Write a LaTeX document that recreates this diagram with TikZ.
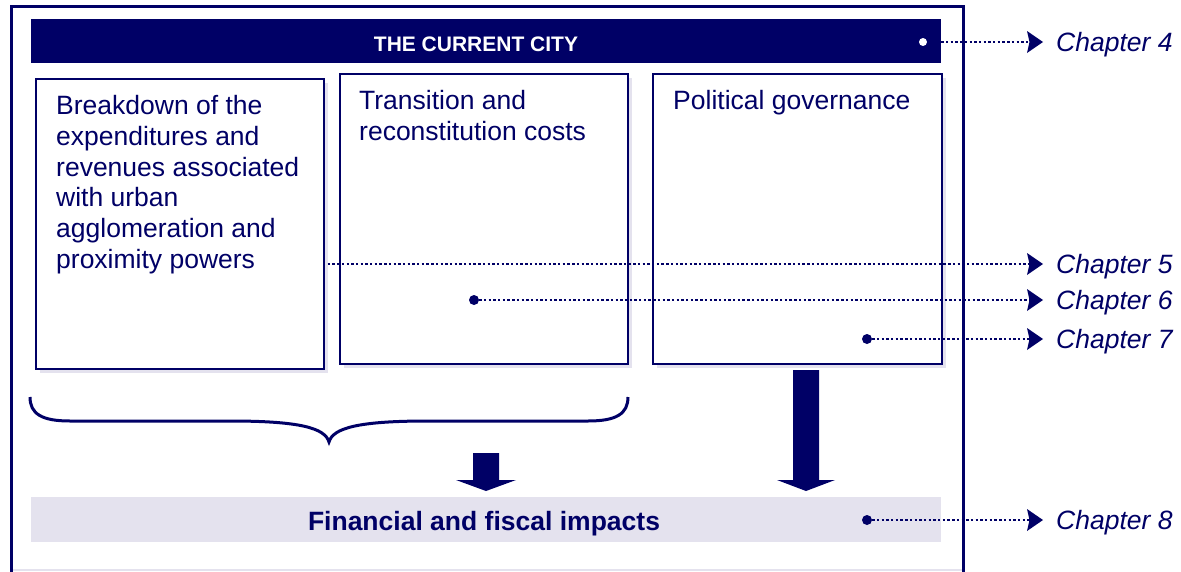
\documentclass[tikz,border=0pt]{standalone}
\usepackage{fontspec}
\setmainfont{Liberation Sans}
\usetikzlibrary{arrows.meta,calc}
\definecolor{navy}{RGB}{0,0,102}
\definecolor{lav}{RGB}{228,226,238}
\begin{document}
\begin{tikzpicture}[x=1pt,y=-1pt,
 box/.style={draw=navy,line width=2pt,fill=white,inner sep=0pt,anchor=north west,minimum height=290pt},
 shadowbox/.style={fill=lav},
 txt/.style={text=navy,font=\fontsize{26.5}{30.8}\selectfont,align=left,anchor=north west,inner sep=0pt},
 chap/.style={text=navy,font=\fontsize{26.5}{30}\selectfont\itshape,anchor=west,inner sep=0pt},
 dotline/.style={navy,line width=2.4pt,dash pattern=on 2.4pt off 2.3pt,-{Stealth[length=16pt,width=22pt,inset=2.5pt,line width=0pt,fill=navy]}},
 blob/.style={circle,fill=navy,inner sep=0pt,minimum size=10pt},
 blockarrow/.style={fill=navy}
]
\useasboundingbox (0,0) rectangle (1181,571);
\fill[white] (0,0) rectangle (1181,571);
% outer frame
\draw[lav,line width=1.5pt] (12,570) -- (962,570);
\node[draw=navy,line width=2.5pt,inner sep=0pt,anchor=north west,minimum width=952pt,minimum height=580pt] (frame) at (10,5) {};
% title bar
\node[fill=navy,inner sep=0pt,anchor=north west,minimum width=910pt,minimum height=44pt] (titlebar) at (31,19) {};
\node[text=white,font=\bfseries\fontsize{21}{25}\selectfont,inner sep=0pt] (title) at (476,44) {THE CURRENT CITY};
% shadows
\fill[shadowbox] (40,83) rectangle (328,373);
\fill[shadowbox] (344,78) rectangle (632,368);
\fill[shadowbox] (657,78) rectangle (946,368);
% boxes
\node[box,minimum width=288pt] (b1) at (35,78) {};
\node[box,minimum width=288pt] (b2) at (339,73) {};
\node[box,minimum width=289pt] (b3) at (652,73) {};
\node[txt] (t1) at (56,95) {Breakdown of the\\expenditures and\\revenues associated\\with urban\\agglomeration and\\proximity powers};
\node[txt] (t2) at (359,90) {Transition and\\reconstitution costs};
\node[txt] (t3) at (673,90) {Political governance};
% brace
\draw[navy,line width=3pt] (30,397) .. controls (30,414) and (42,421) .. (70,421) -- (230,421)
  .. controls (300,421) and (325,428) .. (329,442)
  .. controls (333,428) and (358,421) .. (428,421) -- (588,421)
  .. controls (616,421) and (628,414) .. (628,397);
% block arrows
\fill[blockarrow] (473,453) -- (499,453) -- (499,480) -- (516,480) -- (486,491) -- (456,480) -- (473,480) -- cycle;
\fill[blockarrow] (793,370) -- (819,370) -- (819,480) -- (835,480) -- (806,491) -- (777,480) -- (793,480) -- cycle;
% impacts bar
\node[fill=lav,inner sep=0pt,anchor=north west,minimum width=910pt,minimum height=45pt] (impact) at (31,497) {};
\node[text=navy,font=\bfseries\fontsize{26.5}{30}\selectfont,inner sep=0pt] (impacttxt) at (484,524) {Financial and fiscal impacts};
% chapter labels
\node[chap] (c4) at (1056,44.5) {Chapter 4};
\node[chap] (c5) at (1056,266.5) {Chapter 5};
\node[chap] (c6) at (1056,302.5) {Chapter 6};
\node[chap] (c7) at (1056,341.5) {Chapter 7};
\node[chap] (c8) at (1056,522.5) {Chapter 8};
\coordinate (e4) at (1043,42);
\coordinate (e5) at (1043,264);
\coordinate (e6) at (1043,300);
\coordinate (e7) at (1043,339);
\coordinate (e8) at (1043,520);
% dots
\coordinate (s5) at (323,264);
\node[circle,fill=white,inner sep=0pt,minimum size=8pt] (d4) at (923,42) {};
\node[blob] (d6) at (474,300) {};
\node[blob] (d7) at (867,339) {};
\node[blob] (d8) at (867,520) {};
% connectors
\draw[dotline] (d4) -- (e4);
\draw[dotline] (s5) -- (e5);
\draw[dotline] (d6) -- (e6);
\draw[dotline] (d7) -- (e7);
\draw[dotline] (d8) -- (e8);
\end{tikzpicture}
\end{document}
